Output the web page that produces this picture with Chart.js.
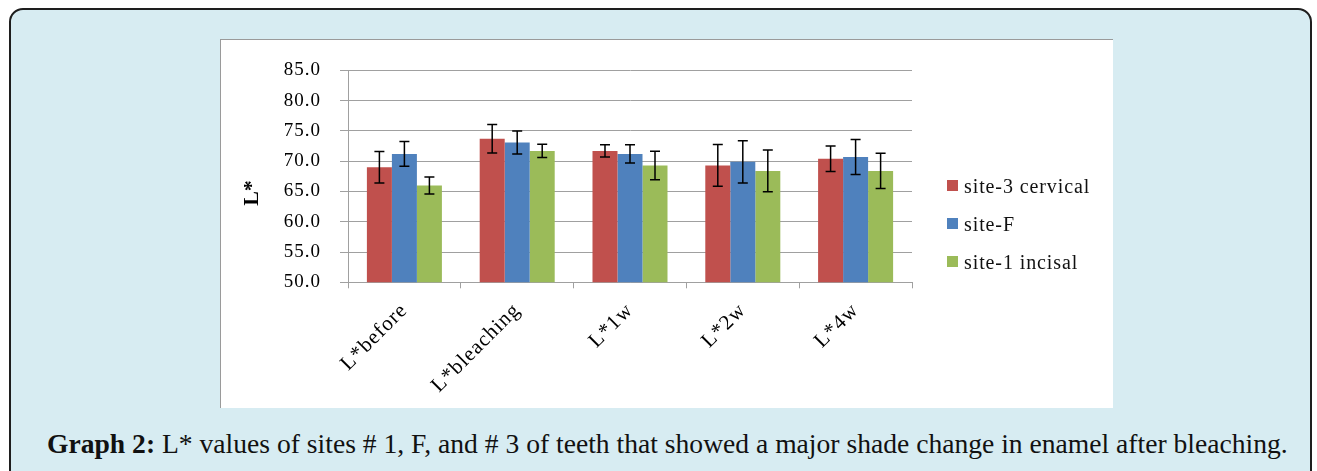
<!DOCTYPE html>
<html>
<head>
<meta charset="utf-8">
<script src="https://cdn.jsdelivr.net/npm/chart.js@4.4.1/dist/chart.umd.min.js"></script>
<style>
  html, body { margin: 0; padding: 0; background: #ffffff; }
  body { width: 1317px; height: 471px; position: relative; overflow: hidden; }
  #frame {
    position: absolute; left: 9px; top: 8px; width: 1303px; height: 480px;
    background: #d7ecf2; border: 2px solid #1e1e1e; border-radius: 14px;
    box-sizing: border-box;
  }
  #white {
    position: absolute; left: 220px; top: 39px; width: 893px; height: 369px;
    background: #ffffff; border-left: 1.5px solid #9a9a9a; border-top: 1.5px solid #9a9a9a;
    box-sizing: border-box;
  }
  #chartBox { position: absolute; left: 221px; top: 40px; width: 892px; height: 368px; }
  #legend { position: absolute; left: 947px; top: 0; font-family: "Liberation Serif", serif; font-size: 20px; color: #111; }
  .li { position: absolute; white-space: nowrap; letter-spacing: 0.9px; }
  .sw { position: absolute; width: 11px; height: 11px; }
  #caption {
    position: absolute; left: 47px; top: 428px; white-space: nowrap;
    font-family: "Liberation Serif", serif; font-size: 27.6px; color: #111;
  }
</style>
</head>
<body>
<div id="frame"></div>
<div id="white"></div>
<div id="chartBox"><canvas id="c"></canvas></div>
<div id="legend"></div>
<div id="caption"><b>Graph 2:</b> L* values of sites # 1, F, and # 3 of teeth that showed a major shade change in enamel after bleaching.</div>
<script>
const categories = ['L*before', 'L*bleaching', 'L*1w', 'L*2w', 'L*4w'];
const seriesNames = ['site-3 cervical', 'site-F', 'site-1 incisal'];
const cervical = [69.0, 73.7, 71.7, 69.3, 70.4];
const cervicalErr = [2.6, 2.35, 1.0, 3.45, 2.1];
const siteF = [71.2, 73.1, 71.2, 69.9, 70.7];
const siteFErr = [2.05, 1.9, 1.5, 3.5, 2.9];
const incisal = [66.0, 71.7, 69.3, 68.4, 68.4];
const incisalErr = [1.4, 1.1, 2.35, 3.45, 2.9];
const yMin = 50, yMax = 85, yStep = 5;
const colors = ['#c0504d', '#4f81bd', '#9bbb59'];
const errors = [cervicalErr, siteFErr, incisalErr];

// legend (HTML)
const legend = document.getElementById('legend');
const rowBase = [193, 231, 269];
seriesNames.forEach((n, i) => {
  const sw = document.createElement('div');
  sw.className = 'sw';
  sw.style.left = '0px';
  sw.style.top = (rowBase[i] - 13) + 'px';
  sw.style.background = colors[i];
  legend.appendChild(sw);
  const t = document.createElement('div');
  t.className = 'li';
  t.textContent = n;
  t.style.left = '17px';
  t.style.top = (rowBase[i] - 18) + 'px';
  t.style.lineHeight = '23px';
  legend.appendChild(t);
});

const spacing = {
  id: 'spacing',
  beforeDraw(chart) { chart.ctx.letterSpacing = '1px'; },
  afterDraw(chart) { chart.ctx.letterSpacing = '0px'; }
};

const errorBars = {
  id: 'errorBars',
  afterDatasetsDraw(chart) {
    const ctx = chart.ctx;
    const y = chart.scales.y;
    ctx.save();
    ctx.strokeStyle = '#000';
    ctx.lineWidth = 1.5;
    chart.data.datasets.forEach((ds, di) => {
      const meta = chart.getDatasetMeta(di);
      meta.data.forEach((bar, i) => {
        const v = ds.data[i], e = errors[di][i];
        const x = bar.x;
        const yt = y.getPixelForValue(v + e), yb = y.getPixelForValue(v - e);
        ctx.beginPath();
        ctx.moveTo(x, yt); ctx.lineTo(x, yb);
        ctx.moveTo(x - 5, yt); ctx.lineTo(x + 5, yt);
        ctx.moveTo(x - 5, yb); ctx.lineTo(x + 5, yb);
        ctx.stroke();
      });
    });
    ctx.restore();
  }
};

const yTitle = {
  id: 'yTitle',
  afterDraw(chart) {
    const ctx = chart.ctx;
    ctx.save();
    ctx.letterSpacing = '0px';
    ctx.translate(31, 153);
    ctx.rotate(-Math.PI / 2);
    ctx.font = 'bold 22px "Liberation Serif"';
    ctx.fillStyle = '#000';
    ctx.textAlign = 'center';
    ctx.textBaseline = 'middle';
    ctx.fillText('L*', 0, 0);
    ctx.restore();
  }
};

new Chart(document.getElementById('c'), {
  type: 'bar',
  data: {
    labels: categories,
    datasets: [
      { label: seriesNames[0], data: cervical, backgroundColor: colors[0] },
      { label: seriesNames[1], data: siteF, backgroundColor: colors[1] },
      { label: seriesNames[2], data: incisal, backgroundColor: colors[2] }
    ]
  },
  options: {
    responsive: true,
    maintainAspectRatio: false,
    animation: false,
    devicePixelRatio: 1,
    layout: { padding: { left: 47, right: 201, top: 24, bottom: 0 } },
    datasets: { bar: { categoryPercentage: 0.665, barPercentage: 1.0, borderWidth: 0 } },
    plugins: { legend: { display: false }, tooltip: { enabled: false } },
    scales: {
      x: {
        grid: { drawOnChartArea: false, drawTicks: true, tickLength: 6, color: '#a0a0a0', offset: true },
        border: { color: '#a0a0a0' },
        ticks: { minRotation: 45, maxRotation: 45, color: '#000', padding: 10,
                 font: { family: 'Liberation Serif', size: 21 } },
        afterFit(s) { s.height = 125.7; }
      },
      y: {
        min: yMin, max: yMax,
        grid: { color: '#a0a0a0', tickLength: 8 },
        border: { color: '#a0a0a0' },
        ticks: { stepSize: yStep, color: '#000', padding: 19,
                 font: { family: 'Liberation Serif', size: 19 },
                 callback: v => v.toFixed(1) },
        afterFit(s) { s.width = 80; }
      }
    }
  },
  plugins: [spacing, errorBars, yTitle]
});
</script>
</body>
</html>
